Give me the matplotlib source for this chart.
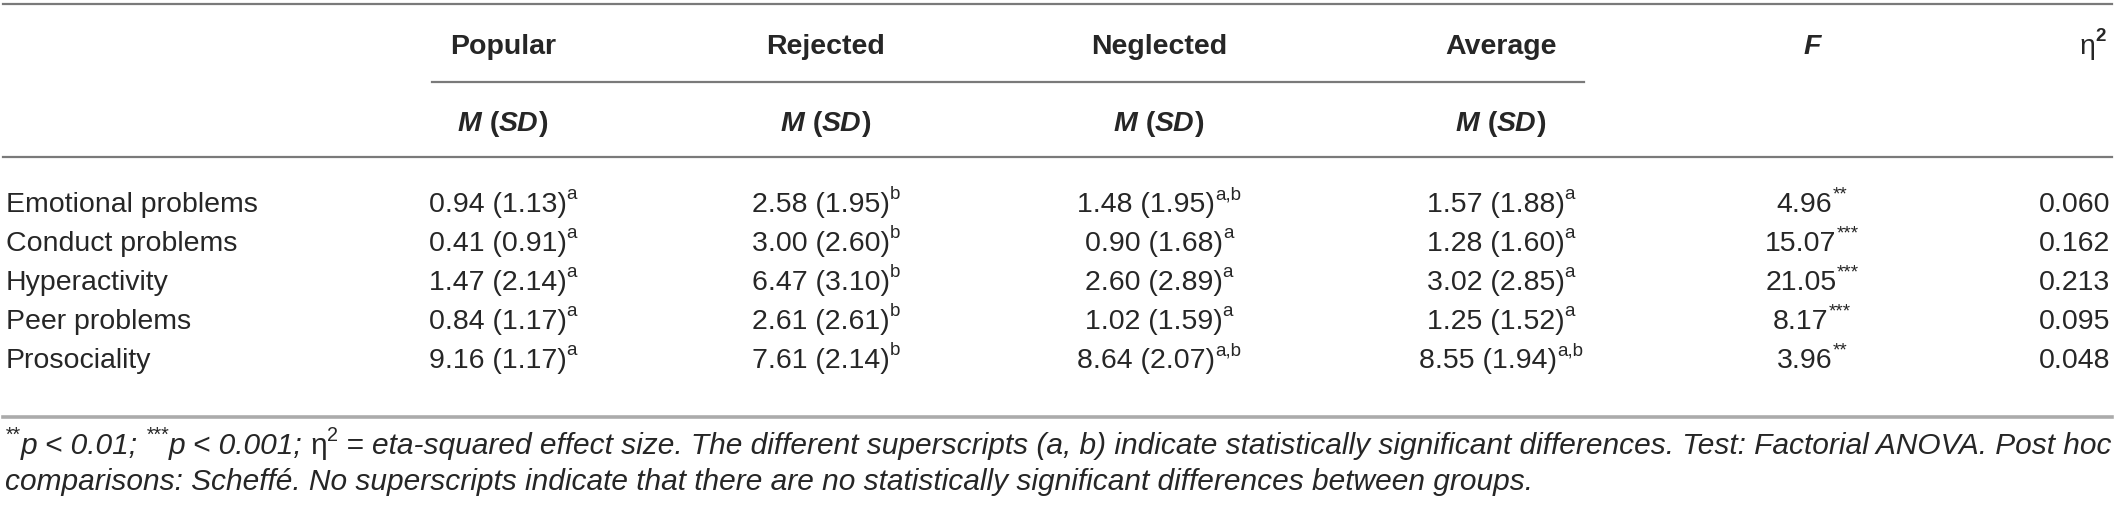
import matplotlib
matplotlib.use("Agg")
import matplotlib.pyplot as plt

fam = 'Liberation Sans'

groups = ["Popular", "Rejected", "Neglected", "Average"]
rows = ["Emotional problems", "Conduct problems", "Hyperactivity", "Peer problems", "Prosociality"]
means = [[0.94, 2.58, 1.48, 1.57],
         [0.41, 3.00, 0.90, 1.28],
         [1.47, 6.47, 2.60, 3.02],
         [0.84, 2.61, 1.02, 1.25],
         [9.16, 7.61, 8.64, 8.55]]
sds = [[1.13, 1.95, 1.95, 1.88],
       [0.91, 2.60, 1.68, 1.60],
       [2.14, 3.10, 2.89, 2.85],
       [1.17, 2.61, 1.59, 1.52],
       [1.17, 2.14, 2.07, 1.94]]
sups = [["a", "b", "a,b", "a"],
        ["a", "b", "a", "a"],
        ["a", "b", "a", "a"],
        ["a", "b", "a", "a"],
        ["a", "b", "a,b", "a,b"]]
f_vals = [4.96, 15.07, 21.05, 8.17, 3.96]
f_stars = ["**", "***", "***", "***", "**"]
eta2 = [0.060, 0.162, 0.213, 0.095, 0.048]

W, H = 2117, 510
fig = plt.figure(figsize=(W / 100, H / 100), dpi=100)
ax = fig.add_axes([0, 0, 1, 1])
ax.set_xlim(0, W)
ax.set_ylim(H, 0)
ax.axis('off')
fig.canvas.draw()
rend = fig.canvas.get_renderer()

FS = 20.5
col = '#262626'


def width(s, **kw):
    t = ax.text(0, 0, s, fontfamily=fam, **kw)
    bb = t.get_window_extent(renderer=rend)
    t.remove()
    return bb.width


def runs(x, y, parts, ha='left', fs=FS):
    # parts: (text, style, weight, superscript?)
    items = []
    for s, st, wt, sup in parts:
        size = fs * 0.66 if sup else fs
        kw = dict(fontsize=size, fontstyle=st, fontweight=wt)
        items.append((s, kw, sup, width(s, **kw)))
    tot = sum(i[3] for i in items)
    if ha == 'center':
        x = x - tot / 2
    elif ha == 'right':
        x = x - tot
    for s, kw, sup, w in items:
        yy = y - fs * 0.62 if sup else y
        ax.text(x, yy, s, fontfamily=fam, color=col, va='baseline', ha='left', **kw)
        x += w


# rules
ax.plot([3, 2112], [5, 5], color='#7a7a7a', lw=1.6)
ax.plot([432, 1584], [83, 83], color='#7a7a7a', lw=1.6)
ax.plot([3, 2112], [158, 158], color='#7a7a7a', lw=1.6)
ax.plot([3, 2112], [418, 418], color='#ababab', lw=2.6)

xc = [503, 826, 1159, 1501]
xf = 1812
xe = 2110

for g, x in zip(groups, xc):
    runs(x, 54, [(g, 'normal', 'bold', False)], ha='center')
    runs(x, 131, [("M", 'italic', 'bold', False), (" (", 'normal', 'bold', False),
                  ("SD", 'italic', 'bold', False), (")", 'normal', 'bold', False)], ha='center')
runs(xf, 54, [("F", 'italic', 'bold', False)], ha='center')
runs(xe - 4, 54, [("η", 'normal', 'normal', False), ("2", 'normal', 'bold', True)], ha='right')

base = [212 + 39 * i for i in range(len(rows))]
for i, r in enumerate(rows):
    y = base[i]
    runs(6, y, [(r, 'normal', 'normal', False)])
    for j, x in enumerate(xc):
        runs(x, y, [(f"{means[i][j]:.2f} ({sds[i][j]:.2f})", 'normal', 'normal', False),
                    (sups[i][j], 'normal', 'normal', True)], ha='center')
    runs(xf, y, [(f"{f_vals[i]:.2f}", 'normal', 'normal', False),
                 (f_stars[i], 'normal', 'normal', True)], ha='center')
    runs(xe, y, [(f"{eta2[i]:.3f}", 'normal', 'normal', False)], ha='right')

FN = 21.5
note1 = [("**", 'italic', 'normal', True), ("p < 0.01; ", 'italic', 'normal', False),
         ("***", 'italic', 'normal', True), ("p < 0.001; ", 'italic', 'normal', False),
         ("η", 'normal', 'normal', False), ("2", 'normal', 'normal', True),
         (" = eta-squared effect size. The different superscripts (a, b) indicate statistically significant differences. Test: Factorial ANOVA. Post hoc",
          'italic', 'normal', False)]
note2 = [("comparisons: Scheffé. No superscripts indicate that there are no statistically significant differences between groups.",
          'italic', 'normal', False)]
runs(5, 454, note1, fs=FN)
runs(5, 490, note2, fs=FN)

fig.savefig("out.png", dpi=100)
